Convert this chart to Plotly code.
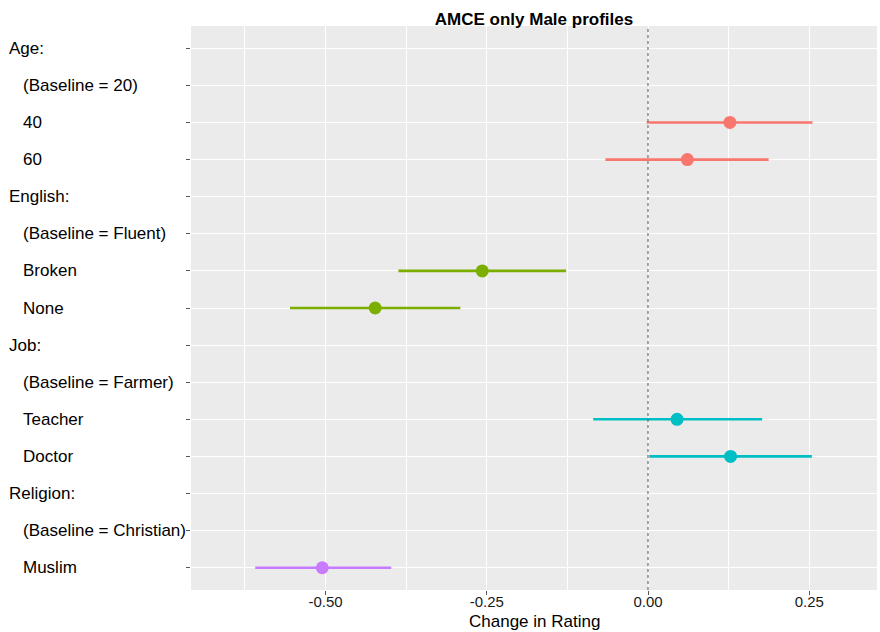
import plotly.graph_objects as go

# Row labels of the coefficient plot, top to bottom
row_labels = [
    "Age:", "(Baseline = 20)", "40", "60",
    "English:", "(Baseline = Fluent)", "Broken", "None",
    "Job:", "(Baseline = Farmer)", "Teacher", "Doctor",
    "Religion:", "(Baseline = Christian)", "Muslim",
]
# 0 = attribute header, 1 = indented level
row_indent = [0, 1, 1, 1, 0, 1, 1, 1, 0, 1, 1, 1, 0, 1, 1]

# Estimated AMCEs with 95% confidence bounds, by attribute
age_levels = ["40", "60"]
age_est = [0.127, 0.061]
age_lo = [-0.002, -0.066]
age_hi = [0.255, 0.187]

english_levels = ["Broken", "None"]
english_est = [-0.257, -0.423]
english_lo = [-0.387, -0.555]
english_hi = [-0.127, -0.291]

job_levels = ["Teacher", "Doctor"]
job_est = [0.045, 0.128]
job_lo = [-0.085, 0.002]
job_hi = [0.177, 0.254]

religion_levels = ["Muslim"]
religion_est = [-0.505]
religion_lo = [-0.609]
religion_hi = [-0.398]

x_ticks = [-0.50, -0.25, 0.00, 0.25]
x_tick_text = ["-0.50", "-0.25", "0.00", "0.25"]
x_minor = [-0.625, -0.375, -0.125, 0.125]

groups = [
    (age_levels, age_est, age_lo, age_hi, "#F8766D"),
    (english_levels, english_est, english_lo, english_hi, "#7CAE00"),
    (job_levels, job_est, job_lo, job_hi, "#00BFC4"),
    (religion_levels, religion_est, religion_lo, religion_hi, "#C77CFF"),
]

FONT = "Liberation Sans, Arial, Helvetica, sans-serif"
W, H = 880, 632
ML, MR, MT, MB = 191, 3, 26, 42
panel_w = W - ML - MR
panel_h = H - MT - MB

fig = go.Figure()

for levels, est, lo, hi, color in groups:
    ys = [row_labels.index(lv) for lv in levels]
    fig.add_trace(go.Scatter(
        x=est, y=ys, mode="markers",
        marker=dict(size=13, color=color, line=dict(width=0)),
        error_x=dict(
            type="data", symmetric=False,
            array=[h - e for h, e in zip(hi, est)],
            arrayminus=[e - l for e, l in zip(est, lo)],
            color=color, thickness=2.6, width=0,
        ),
        showlegend=False, hoverinfo="x+y",
    ))

# Dotted reference line at zero
fig.add_shape(type="line", xref="x", yref="paper", x0=0, x1=0, y0=0, y1=1,
              line=dict(color="#555555", width=1, dash="dot"), layer="above")

# Left-aligned row labels
for i, (lab, ind) in enumerate(zip(row_labels, row_indent)):
    px = 7 if ind == 0 else 21
    fig.add_annotation(
        text=lab, xref="paper", yref="y",
        x=(px - ML) / panel_w, y=i,
        xanchor="left", yanchor="middle", showarrow=False,
        font=dict(family=FONT, size=17, color="#000000"),
    )

# Axis title
fig.add_annotation(
    text="Change in Rating", xref="paper", yref="paper",
    x=0.5, y=-(621 - (H - MB)) / panel_h,
    xanchor="center", yanchor="middle", showarrow=False,
    font=dict(family=FONT, size=17, color="#000000"),
)

fig.update_layout(
    width=W, height=H,
    margin=dict(l=ML, r=MR, t=MT, b=MB, autoexpand=False),
    paper_bgcolor="white", plot_bgcolor="#EBEBEB",
    title=dict(
        text="<b>AMCE only Male profiles</b>",
        x=(ML + panel_w / 2) / W, xanchor="center",
        y=1 - 19 / H, yanchor="middle",
        font=dict(family=FONT, size=17, color="#000000"),
    ),
    xaxis=dict(
        range=[-0.7085, 0.355],
        tickvals=x_ticks, ticktext=x_tick_text,
        showgrid=True, gridcolor="white", gridwidth=1.1,
        minor=dict(tickvals=x_minor, showgrid=True, gridcolor="white",
                   gridwidth=0.55, ticks=""),
        zeroline=False, showline=False,
        ticks="outside", ticklen=4, tickwidth=1, tickcolor="#555555",
        ticklabelstandoff=-6,
        tickfont=dict(family=FONT, size=15, color="#1a1a1a"),
    ),
    yaxis=dict(
        range=[14.6, -0.6],
        tickvals=list(range(len(row_labels))),
        showticklabels=False,
        showgrid=True, gridcolor="white", gridwidth=1.1,
        zeroline=False, showline=False,
        ticks="outside", ticklen=4, tickwidth=1, tickcolor="#555555",
    ),
)

fig.write_html("out.html")
